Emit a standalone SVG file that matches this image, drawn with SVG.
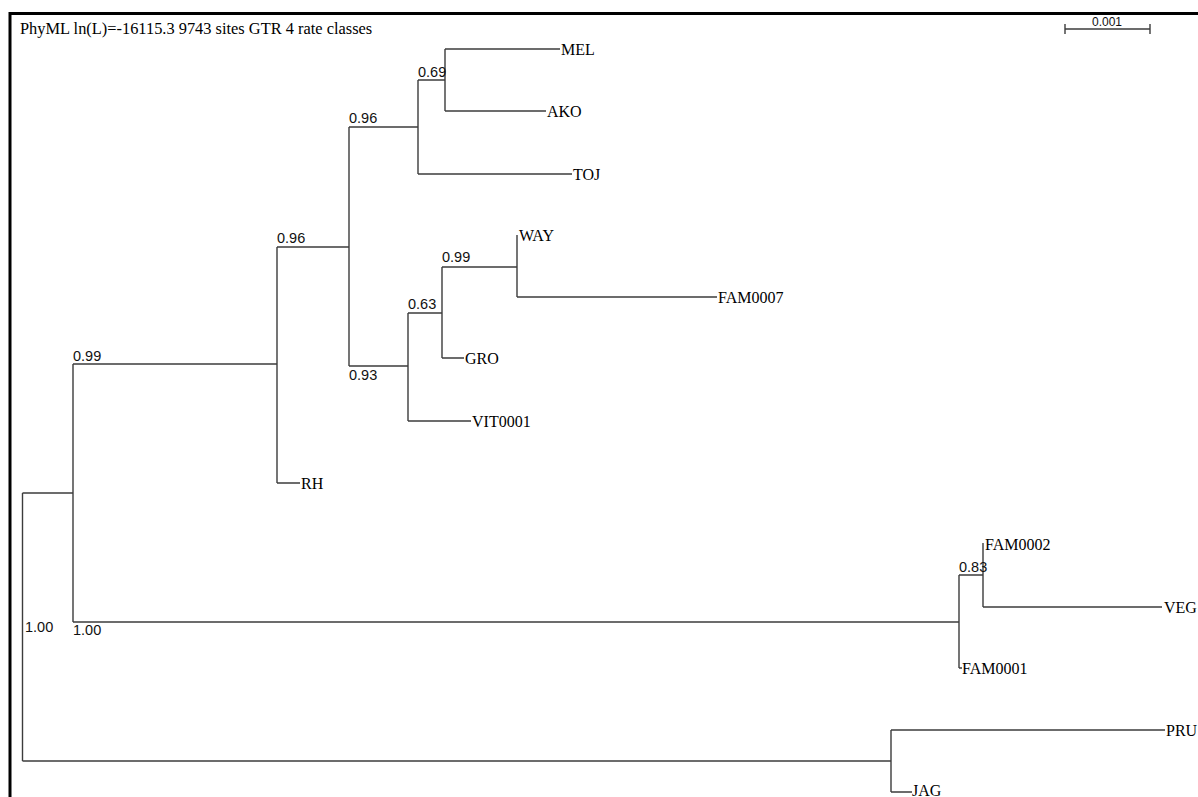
<svg xmlns="http://www.w3.org/2000/svg" width="1198" height="797" viewBox="0 0 1198 797">
<style>
.frame{stroke:#000;stroke-width:3;fill:none}
.br{stroke:#3c3c3c;stroke-width:1.4;fill:none}
.tx{font-family:"Liberation Serif","Times New Roman",serif;font-size:16px;fill:#000}
.sv{font-family:"Liberation Sans",Arial,sans-serif;font-size:14.5px;fill:#111}
.sc{font-family:"Liberation Sans",Arial,sans-serif;font-size:12px;fill:#111}
</style>
<rect width="1198" height="797" fill="#fff"/>
<g id="frame">
<path class="frame" d="M10,800 V13.5 H1200"/>
<text class="tx" x="20" y="34" style="font-size:16.4px">PhyML ln(L)=-16115.3 9743 sites GTR 4 rate classes</text>
</g>
<g id="scalebar">
<path class="br" d="M1065,29 H1150 M1065,24 V34 M1150,24 V34"/>
<text class="sc" x="1107" y="26" text-anchor="middle">0.001</text>
</g>
<g id="connectors">
<path class="br" d="M22.5,493 V761 M22.5,493 H73 M22.5,761 H891"/>
<path class="br" d="M73,364 V622 M73,364 H277 M73,622 H959"/>
<path class="br" d="M277,247 V483 M277,247 H349 M277,483 H300"/>
<path class="br" d="M349,127 V366 M349,127 H418 M349,366 H408"/>
<path class="br" d="M418,80 V174 M418,80 H445 M418,174 H572"/>
<path class="br" d="M445,49 V111 M445,49 H560 M445,111 H546"/>
<path class="br" d="M408,313 V421 M408,313 H442 M408,421 H471"/>
<path class="br" d="M442,267 V358 M442,267 H517 M442,358 H464"/>
<path class="br" d="M517,235 V297 M517,297 H717"/>
<path class="br" d="M959,575 V668 M959,575 H983 M959,668 H962"/>
<path class="br" d="M983,543 V607 M983,607 H1162"/>
<path class="br" d="M891,730 V792 M891,730 H1165 M891,792 H912"/>
</g>
<g id="support">
<text class="sv" x="25" y="632">1.00</text>
<text class="sv" x="73" y="635">1.00</text>
<text class="sv" x="73" y="361">0.99</text>
<text class="sv" x="277" y="243">0.96</text>
<text class="sv" x="349" y="123">0.96</text>
<text class="sv" x="349" y="380">0.93</text>
<text class="sv" x="418" y="77">0.69</text>
<text class="sv" x="408" y="309">0.63</text>
<text class="sv" x="442" y="262">0.99</text>
<text class="sv" x="959" y="572">0.83</text>
</g>
<g id="node-MEL"><text class="tx" x="561" y="55">MEL</text></g>
<g id="node-AKO"><text class="tx" x="547" y="117">AKO</text></g>
<g id="node-TOJ"><text class="tx" x="573" y="180">TOJ</text></g>
<g id="node-WAY"><text class="tx" x="519" y="241">WAY</text></g>
<g id="node-FAM0007"><text class="tx" x="718" y="303">FAM0007</text></g>
<g id="node-GRO"><text class="tx" x="465" y="364">GRO</text></g>
<g id="node-VIT0001"><text class="tx" x="472" y="427">VIT0001</text></g>
<g id="node-RH"><text class="tx" x="301" y="489">RH</text></g>
<g id="node-FAM0002"><text class="tx" x="985" y="550">FAM0002</text></g>
<g id="node-VEG"><text class="tx" x="1164" y="613">VEG</text></g>
<g id="node-FAM0001"><text class="tx" x="962" y="674">FAM0001</text></g>
<g id="node-PRU"><text class="tx" x="1166" y="736">PRU</text></g>
<g id="node-JAG"><text class="tx" x="912" y="796">JAG</text></g>
</svg>
